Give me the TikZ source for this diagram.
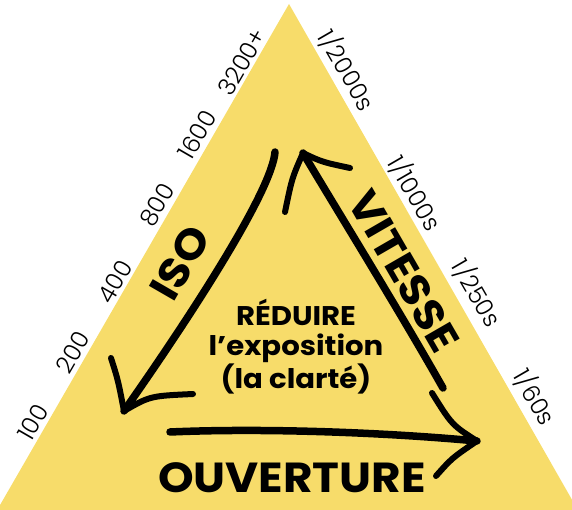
\documentclass[tikz,border=0pt]{standalone}
\usepackage{fontspec}
\setmainfont{Poppins}
\newfontfamily\lightfont{Poppins Light}
\newfontfamily\widefont[FakeStretch=1.08]{Poppins}
\definecolor{tri}{HTML}{F7DC6A}
\begin{document}
\begin{tikzpicture}[x=1pt,y=-1pt,
  num/.style={font=\lightfont\fontsize{24}{24}\selectfont, inner sep=0pt, anchor=center},
  big/.style={font=\widefont\fontsize{42}{42}\selectfont\bfseries, inner sep=0pt, anchor=center},
  brush/.style={line width=7.5pt, line cap=round, line join=round},
  head/.style={line width=6pt, line cap=round}]
\useasboundingbox (0,0) rectangle (572,510);
\clip (0,0) rectangle (572,510);
% triangle
\coordinate (apex) at (289,4);
\coordinate (bl) at (-4,512);
\coordinate (br) at (579,512);
\fill[tri] (apex) -- (bl) -- (br) -- cycle;
% ISO scale
\node[num, rotate=60] (n100) at (33,422) {100};
\node[num, rotate=60] (n200) at (73,352) {200};
\node[num, rotate=60] (n400) at (115,282) {400};
\node[num, rotate=60] (n800) at (157,205) {800};
\node[num, rotate=60] (n1600) at (197,135) {1600};
\node[num, rotate=60] (n3200) at (242,62) {3200+};
% shutter scale
\node[num, rotate=-60] (s2000) at (347,70) {1/2000s};
\node[num, rotate=-60] (s1000) at (415,193) {1/1000s};
\node[num, rotate=-60] (s250) at (477,293) {1/250s};
\node[num, rotate=-60] (s60) at (535,397) {1/60s};
% labels
\node[big, rotate=60] (iso) at (180,263) {ISO};
\node[big, rotate=-60] (vit) at (404,271) {VITESSE};
\node[big] (ouv) at (292,478) {OUVERTURE};
\node[inner sep=0pt, align=center, font=\widefont\fontsize{27}{30}\selectfont\bfseries] (mid) at (296,347) {RÉDUIRE\\l’exposition\\(la clarté)};
% ISO arrow
\coordinate (isoS) at (275,152);
\coordinate (isoT) at (124,411);
\coordinate (isoH1) at (111,358);
\coordinate (isoH2) at (193,394);
\draw[brush] (isoS) .. controls (272,190) and (195,310) .. (isoT);
\draw[head] (isoH1) .. controls (118,380) .. (isoT);
\draw[head] (isoT) .. controls (150,396) .. (isoH2);
% VITESSE arrow
\coordinate (vitS) at (443,388);
\coordinate (vitT) at (303,153);
\coordinate (vitH1) at (350,168);
\coordinate (vitH2) at (285,212);
\draw[brush] (vitS) .. controls (400,312) and (340,215) .. (vitT);
\draw[head] (vitT) .. controls (322,162) .. (vitH1);
\draw[head] (vitT) .. controls (292,178) .. (vitH2);
% OUVERTURE arrow
\coordinate (ouvS) at (170,432);
\coordinate (ouvT) at (477,441);
\coordinate (ouvH1) at (432,393);
\coordinate (ouvH2) at (436,476);
\draw[brush] (ouvS) .. controls (260,428) and (380,432) .. (ouvT);
\draw[head] (ouvH1) .. controls (452,425) .. (ouvT);
\draw[head] (ouvT) .. controls (452,458) .. (ouvH2);
\end{tikzpicture}
\end{document}
